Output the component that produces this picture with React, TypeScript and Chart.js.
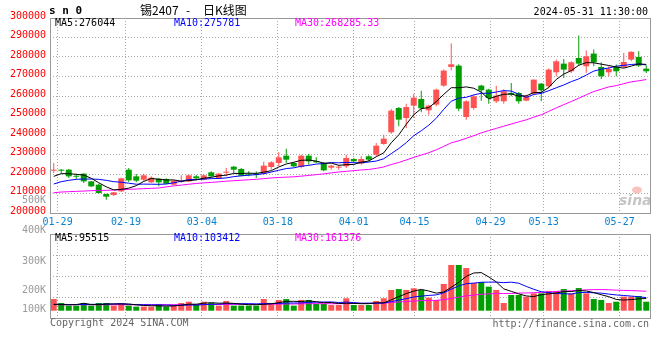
import React, { useEffect, useRef } from "react";
import { Chart, registerables } from "chart.js";

Chart.register(...registerables);

// ---------- data ----------
const dates = [
  "01-26","01-29","01-30","01-31","02-01","02-02","02-05","02-06","02-07","02-08",
  "02-19","02-20","02-21","02-22","02-23","02-26","02-27","02-28","02-29","03-01",
  "03-04","03-05","03-06","03-07","03-08","03-11","03-12","03-13","03-14","03-15",
  "03-18","03-19","03-20","03-21","03-22","03-25","03-26","03-27","03-28","03-29",
  "04-01","04-02","04-03","04-08","04-09","04-10","04-11","04-12","04-15","04-16",
  "04-17","04-18","04-19","04-22","04-23","04-24","04-25","04-26","04-29","04-30",
  "05-06","05-07","05-08","05-09","05-10","05-13","05-14","05-15","05-16","05-17",
  "05-20","05-21","05-22","05-23","05-24","05-27","05-28","05-29","05-30","05-31",
];
const tickDates = ["01-29","02-19","03-04","03-18","04-01","04-15","04-29","05-13","05-27"];

const opens = [
  221700,221900,222220,219000,220170,216230,214520,209740,209220,211100,
  222220,218800,217090,215720,217600,217430,214520,215900,216230,218800,
  217090,220850,217770,220680,223760,222560,220170,220170,220170,223590,
  225640,229400,225640,223590,229400,226660,225640,223250,223250,223930,
  227690,225300,229060,229910,235390,241370,253860,248730,255060,258480,
  252660,255570,265320,274900,275580,249240,253860,265320,263270,257280,
  257280,261560,261560,257620,261210,266340,264980,272160,276600,272670,
  279510,275240,281740,274900,272160,274900,274900,278660,280030,274040,
];
const highs = [
  225600,222560,222560,220170,220400,216400,215040,209900,210760,218110,
  223070,220000,220170,218800,218000,217770,217090,219310,219660,219480,
  219830,221370,220510,223070,224100,223070,221370,221370,226320,226490,
  231110,232990,226150,229910,230430,228550,226150,224780,224780,229910,
  228210,229060,229570,235900,240180,253350,254370,256080,261210,262750,
  255570,263780,273530,286870,276260,257800,260700,265830,263780,265320,
  263440,266690,262070,260700,268400,266690,274040,278660,279000,277800,
  290980,283280,283790,277290,275240,276090,282080,282940,282940,275580,
];
const lows = [
  220500,220170,217940,217430,215370,213300,209900,206830,208720,210760,
  215890,215720,216230,215380,213670,214700,214180,215380,215890,216750,
  216750,218290,217430,218800,220510,218800,218800,217940,219650,222220,
  223930,225640,223420,222900,224780,225640,221370,222220,222220,223070,
  225640,224780,226490,229060,235050,240690,244460,243600,248730,251640,
  250440,254800,264800,273190,252150,247870,253000,257620,256080,256420,
  256080,259840,256080,257280,260360,257280,263950,270110,269250,271820,
  275580,271820,275240,268740,270110,270110,274380,277800,274900,271820,
];
const closes = [
  221900,221700,218800,218600,216230,213670,210250,208370,210590,217770,
  216750,216580,219310,218110,215720,215040,216580,216300,219310,217770,
  219310,218800,220170,221000,222220,219140,219650,219480,224270,225980,
  228550,227350,223930,229400,226490,225980,221880,224270,223590,228210,
  226490,227690,227350,234530,238120,252490,247870,254370,259160,253690,
  255060,263270,273020,276260,253520,257280,259850,262920,258990,260190,
  262410,260700,257280,259850,268400,262920,273530,277800,273530,277290,
  276600,280370,277290,270110,273870,272670,277460,282650,275580,272670,
];
const ma5 = [
  218800,220170,220170,219830,219446,217800,215510,213424,211822,212130,
  212746,214012,216200,217704,217294,216952,216952,216350,216590,217000,
  217854,218298,219072,219410,220300,220266,220436,220298,220952,221704,
  223586,225126,226016,227042,227144,226630,225536,225604,224442,224786,
  224888,226050,226666,228854,230836,236036,240072,245476,250402,253516,
  254030,257110,260840,264260,264226,264670,263986,261966,258512,259846,
  260872,261042,259914,260086,261728,261830,264396,268500,271236,273014,
  275750,277118,277016,276332,275648,274862,274280,275352,276446,276206,
];
const ma10 = [
  214870,216060,216750,217260,217430,217430,217260,216750,216060,215788,
  215273,214761,214812,214763,214712,214849,215482,216275,217147,217147,
  217403,217625,217711,218000,218650,219060,219367,219685,220181,221002,
  221926,222781,223157,223997,224424,225108,225331,225810,225742,225965,
  225759,225793,226135,226648,227811,230462,233061,236071,239628,242176,
  245033,248591,253158,257331,258871,259350,260548,261403,261386,262036,
  262771,262514,260940,259299,260787,261351,262719,264207,265661,267371,
  268790,270757,272758,273784,274331,275306,275699,276184,276389,275927,
];
const ma30 = [
  210420,210760,210930,211100,211270,211440,211610,211610,211790,211960,
  212130,212300,212470,212640,212810,213400,213900,214300,214750,215150,
  215450,215700,216000,216300,216550,216800,217050,217300,217600,217979,
  218201,218389,218560,218920,219262,219672,220060,220590,221023,221371,
  221696,222066,222334,222882,223628,224877,225920,227189,228517,229714,
  230906,232388,234150,235992,237035,238307,239647,241095,242252,243392,
  244521,245633,246744,247759,249156,250388,252109,253894,255558,257194,
  258865,260621,262285,263471,264663,265336,266322,267265,267812,268445,
];

// volume in thousands of lots
const volumeK = [
  92,61,40,40,61,40,61,61,40,61,
  40,32,32,32,53,32,40,61,71,53,
  71,61,40,77,40,40,40,40,92,61,
  85,92,40,85,85,53,53,45,45,98,
  45,45,45,77,98,164,171,164,177,164,
  103,85,211,361,361,337,219,227,190,164,
  61,124,124,111,137,137,156,156,171,137,
  179,137,92,85,61,71,111,111,116,71,
];
const volMa5 = [
  50,48,47,48,58.8,48.4,48.4,52.6,52.6,52.6,
  52.6,46.8,41,39.4,37.8,36.2,37.8,43.6,51.4,51.4,
  59.2,63.4,59.2,60.4,57.8,51.6,47.4,47.4,50.4,54.6,
  63.6,74,74,72.6,77.4,71,63.2,64.2,56.2,58.8,
  57.2,55.6,55.6,62,62,85.8,111,134.8,154.8,168,
  155.8,138.6,148,184.8,224.2,271,297.8,301,266.8,227.4,
  172.2,153.2,132.6,116.8,111.4,126.6,133,139.4,151.4,151.4,
  159.8,156,143.2,126,110.8,89.2,84,87.8,94,96,
];
const volMa10 = [
  50,50,49,49,49,50,51,52,54,55.7,
  50.5,47.6,46.8,46,45.2,44.4,42.3,42.3,45.4,44.6,
  47.7,50.6,51.4,55.9,54.6,55.4,55.4,53.3,55.4,56.2,
  57.6,60.7,60.7,61.5,66,67.3,68.6,69.1,64.4,68.1,
  64.1,59.4,59.9,59.1,60.4,71.5,83.3,95.2,108.4,115,
  120.8,124.8,141.4,169.8,196.1,213.4,218.2,224.5,225.8,225.8,
  221.6,225.5,216.8,191.8,169.4,149.4,143.1,136,134.1,131.4,
  143.2,144.5,141.3,138.7,131.1,124.5,120,115.5,110,103.4,
];
const volMa30 = [
  47,47,47,47,47,47,47,47,47,47,
  47,47,47,47,47,47,47,48,48,48,
  49,49,49,50,50,50,51,51,52,52.2,
  51.9,53,53,54.5,55.3,55.7,55.4,54.9,55.1,56.3,
  56.5,56.9,57.3,58.8,60.3,64.7,69.1,72.5,76.1,79.8,
  80.8,81.6,87.3,96.8,107.5,117.4,123.4,129.6,132.9,136.3,
  135.5,136.6,139.4,140.2,142,144.8,148.2,151.9,156.1,157.4,
  161.9,164.9,166.5,166.8,165.5,162.4,160.4,158.7,156.6,153.5,
];
const volAxisLabels = ["400K", "300K", "200K", "100K"];

const priceMin = 200000;
const priceMax = 300000;
const priceStep = 10000;
const volMinK = -57.7;
const volMaxK = 606;

// ---------- style ----------
const RED = "#ff5252";
const GREEN = "#009e00";
const GRID = "#a8a8a8";
const FRAME = "#999999";
const TICK_BLUE = "#0a82d2";
const MONO = '"DejaVu Sans Mono", "Liberation Mono", monospace';
const CJK = '"Noto Sans CJK SC", "Noto Sans", sans-serif';

const tickIdx = tickDates.map((d) => dates.indexOf(d));
const candleColors = dates.map((_, i) => (closes[i] >= opens[i] ? RED : GREEN));

function drawFrame(chart: any) {
  const { ctx, chartArea: a } = chart;
  ctx.save();
  ctx.setLineDash([]);
  ctx.strokeStyle = FRAME;
  ctx.lineWidth = 1;
  const L = Math.round(a.left) + 0.5;
  const R = Math.round(a.right) + 0.5;
  const T = Math.round(a.top) + 0.5;
  const B = Math.round(a.bottom) + 0.5;
  ctx.strokeRect(L, T, R - L, B - T);
  ctx.restore();
}

const priceDecor = {
  id: "priceDecor",
  afterDraw(chart: any) {
    drawFrame(chart);
    const ctx = chart.ctx;
    ctx.save();
    ctx.textBaseline = "middle";
    ctx.textAlign = "left";
    ctx.fillStyle = "#000";
    ctx.font = `bold 11px ${MONO}`;
    ctx.fillText("s n 0", 49, 11);
    ctx.font = `12px ${CJK}`;
    ctx.fillText("锡2407", 140, 10);
    ctx.fillText("-", 186, 10);
    ctx.fillText("日K线图", 203, 10);
    ctx.font = `10px ${MONO}`;
    ctx.textAlign = "right";
    ctx.fillText("2024-05-31 11:30:00", 648, 12);
    ctx.textAlign = "left";
    ctx.fillStyle = "#000000";
    ctx.fillText("MA5:276044", 55, 23.5);
    ctx.fillStyle = "#0000ff";
    ctx.fillText("MA10:275781", 174, 23.5);
    ctx.fillStyle = "#ff00ff";
    ctx.fillText("MA30:268285.33", 295, 23.5);
    ctx.textAlign = "right";
    ctx.fillStyle = "#9a9a9a";
    ctx.fillText("500K", 46, 200);
    // watermark
    ctx.textAlign = "left";
    ctx.font = `italic bold 14px "DejaVu Sans", sans-serif`;
    ctx.fillStyle = "rgba(150,150,150,0.55)";
    ctx.fillText("sina", 619, 201);
    ctx.fillStyle = "rgba(240,120,110,0.45)";
    ctx.beginPath();
    ctx.ellipse(637, 190, 5, 3.5, 0, 0, Math.PI * 2);
    ctx.fill();
    ctx.restore();
  },
};

const volDecor = {
  id: "volDecor",
  afterDraw(chart: any) {
    drawFrame(chart);
    const ctx = chart.ctx;
    ctx.save();
    ctx.textBaseline = "middle";
    ctx.font = `10px ${MONO}`;
    ctx.textAlign = "right";
    ctx.fillStyle = "#9a9a9a";
    const ys = [6.7, 37, 66.7, 85.5];
    volAxisLabels.forEach((t, k) => ctx.fillText(t, 46, ys[k]));
    ctx.textAlign = "left";
    ctx.fillStyle = "#000000";
    ctx.fillText("MA5:95515", 55, 14.5);
    ctx.fillStyle = "#0000ff";
    ctx.fillText("MA10:103412", 174, 14.5);
    ctx.fillStyle = "#ff00ff";
    ctx.fillText("MA30:161376", 295, 14.5);
    ctx.fillStyle = "#666666";
    ctx.fillText("Copyright 2024 SINA.COM", 50, 99.5);
    ctx.textAlign = "right";
    ctx.fillText("http://finance.sina.com.cn", 649, 100);
    ctx.restore();
  },
};

function lineDs(label: string, data: number[], color: string) {
  return {
    type: "line" as const,
    label,
    data,
    borderColor: color,
    backgroundColor: color,
    borderWidth: 1,
    pointRadius: 0,
    tension: 0,
    fill: false,
    order: 0,
    xAxisID: "x",
    yAxisID: "y",
  };
}

function dateGridAxis(showLabels: boolean) {
  return {
    type: "linear" as const,
    position: "bottom" as const,
    min: 0,
    max: dates.length - 1,
    offset: false,
    afterBuildTicks: (s: any) => {
      s.ticks = tickIdx.map((v) => ({ value: v }));
    },
    afterFit: (s: any) => {
      s.height = showLabels ? 19 : 0;
    },
    grid: { color: GRID, lineWidth: 1, drawTicks: false, offset: false },
    border: { display: false, dash: [1, 2] },
    ticks: {
      display: showLabels,
      autoSkip: false,
      maxRotation: 0,
      color: TICK_BLUE,
      font: { family: MONO, size: 10 },
      padding: 3,
      callback: (v: any) => dates[Math.round(Number(v))],
    },
  };
}

function priceConfig(): any {
  return {
    type: "bar",
    data: {
      labels: dates,
      datasets: [
        lineDs("MA5", ma5, "#000000"),
        lineDs("MA10", ma10, "#0000ff"),
        lineDs("MA30", ma30, "#ff00ff"),
        {
          type: "bar",
          label: "body",
          data: dates.map((_, i) => [opens[i], closes[i]]),
          backgroundColor: candleColors,
          borderWidth: 0,
          barThickness: 6,
          minBarLength: 1,
          grouped: false,
          inflateAmount: 0,
          order: 1,
          xAxisID: "x",
          yAxisID: "y",
        },
        {
          type: "bar",
          label: "wick",
          data: dates.map((_, i) => [lows[i], highs[i]]),
          backgroundColor: candleColors,
          borderWidth: 0,
          barThickness: 1,
          grouped: false,
          inflateAmount: 0,
          order: 2,
          xAxisID: "x",
          yAxisID: "y",
        },
      ],
    },
    options: {
      animation: false,
      responsive: false,
      maintainAspectRatio: false,
      devicePixelRatio: 1,
      events: [],
      layout: { padding: { left: 0, right: 10, top: 18, bottom: 0 } },
      plugins: { legend: { display: false }, tooltip: { enabled: false }, title: { display: false } },
      scales: {
        x: { type: "category", display: false, offset: true, grid: { display: false } },
        xg: dateGridAxis(true),
        y: {
          type: "linear",
          position: "left",
          min: priceMin,
          max: priceMax,
          afterFit: (s: any) => {
            s.width = 50;
          },
          grid: { color: GRID, lineWidth: 1, drawTicks: false },
          border: { display: false, dash: [1, 2] },
          ticks: {
            stepSize: priceStep,
            autoSkip: false,
            color: "#ff0000",
            font: { family: MONO, size: 10 },
            padding: 4,
            labelOffset: -2,
            callback: (v: any) => String(v),
          },
        },
      },
    },
    plugins: [priceDecor],
  };
}

function volConfig(): any {
  return {
    type: "bar",
    data: {
      labels: dates,
      datasets: [
        lineDs("VMA5", volMa5, "#000000"),
        lineDs("VMA10", volMa10, "#0000ff"),
        lineDs("VMA30", volMa30, "#ff00ff"),
        {
          type: "bar",
          label: "volume",
          data: volumeK,
          backgroundColor: candleColors,
          borderWidth: 0,
          barThickness: 6,
          grouped: false,
          inflateAmount: 0,
          order: 1,
          xAxisID: "x",
          yAxisID: "y",
        },
      ],
    },
    options: {
      animation: false,
      responsive: false,
      maintainAspectRatio: false,
      devicePixelRatio: 1,
      events: [],
      layout: { padding: { left: 0, right: 10, top: 10, bottom: 42 } },
      plugins: { legend: { display: false }, tooltip: { enabled: false }, title: { display: false } },
      scales: {
        x: { type: "category", display: false, offset: true, grid: { display: false } },
        xg: dateGridAxis(false),
        y: {
          type: "linear",
          position: "left",
          min: volMinK,
          max: volMaxK,
          afterBuildTicks: (s: any) => {
            const q = (volMaxK - volMinK) / 4;
            s.ticks = [0, 1, 2, 3, 4].map((k) => ({ value: volMinK + k * q }));
          },
          afterFit: (s: any) => {
            s.width = 50;
          },
          grid: { color: GRID, lineWidth: 1, drawTicks: false },
          border: { display: false, dash: [1, 2] },
          ticks: { display: false },
        },
      },
    },
    plugins: [volDecor],
  };
}

export default function App() {
  const priceRef = useRef<HTMLCanvasElement>(null);
  const volRef = useRef<HTMLCanvasElement>(null);

  useEffect(() => {
    const pc = new Chart(priceRef.current as HTMLCanvasElement, priceConfig());
    const vc = new Chart(volRef.current as HTMLCanvasElement, volConfig());
    return () => {
      pc.destroy();
      vc.destroy();
    };
  }, []);

  return (
    <div
      style={{
        position: "absolute",
        left: 0,
        top: 0,
        width: 660,
        height: 360,
        background: "#ffffff",
        overflow: "hidden",
      }}
    >
      <canvas
        ref={priceRef}
        width={660}
        height={232}
        style={{ position: "absolute", left: 0, top: 0, width: 660, height: 232 }}
      />
      <canvas
        ref={volRef}
        width={660}
        height={136}
        style={{ position: "absolute", left: 0, top: 224, width: 660, height: 136 }}
      />
    </div>
  );
}
